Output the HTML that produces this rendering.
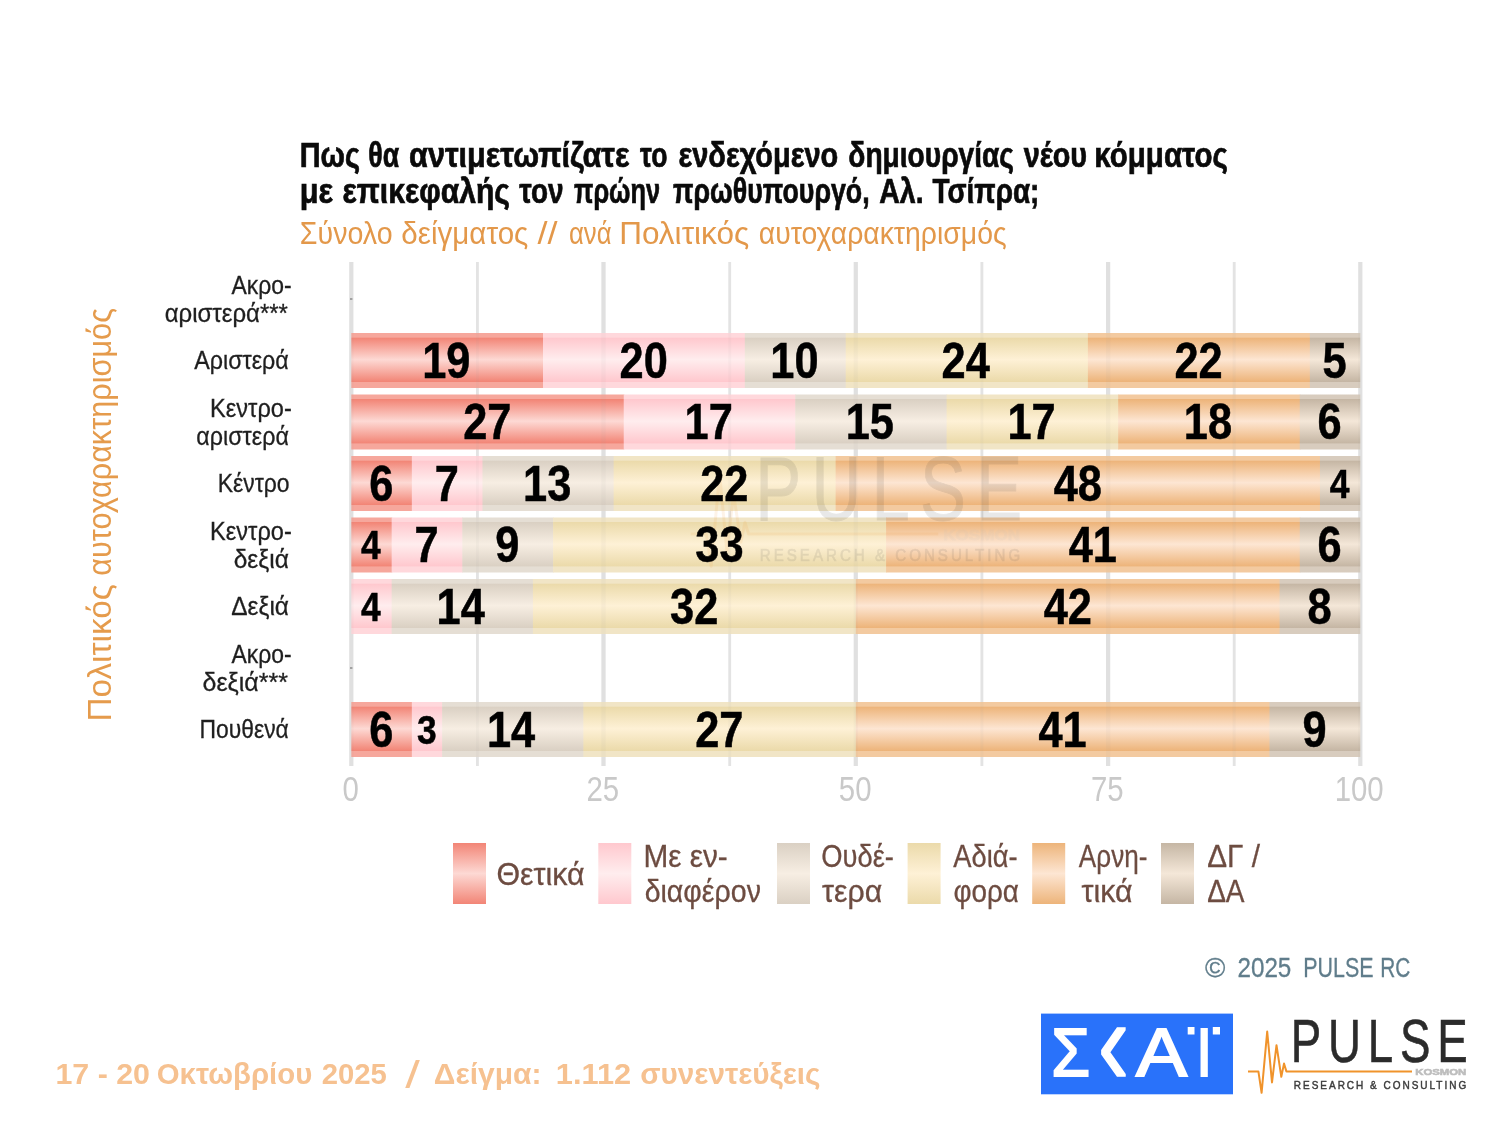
<!DOCTYPE html>
<html lang="el"><head><meta charset="utf-8"><title>Pulse RC</title>
<style>html,body{margin:0;padding:0;background:#fff}svg{display:block}text{font-family:"Liberation Sans", "DejaVu Sans", sans-serif}</style></head><body>
<svg width="1500" height="1125" viewBox="0 0 1500 1125">
<defs>
<linearGradient id="gr" x1="0" y1="0" x2="0" y2="1">
<stop offset="0" stop-color="#F6A79C"/>
<stop offset="0.078" stop-color="#F6A79C"/>
<stop offset="0.09" stop-color="#F28576"/>
<stop offset="0.485" stop-color="#FDD9D4"/>
<stop offset="0.885" stop-color="#F28576"/>
<stop offset="0.895" stop-color="#F6A79C"/>
<stop offset="1" stop-color="#F6A79C"/>
</linearGradient>
<linearGradient id="lr" x1="0" y1="0" x2="0" y2="1">
<stop offset="0" stop-color="#F28576"/>
<stop offset="0.5" stop-color="#FDD9D4"/>
<stop offset="1" stop-color="#F28576"/>
</linearGradient>
<linearGradient id="gp" x1="0" y1="0" x2="0" y2="1">
<stop offset="0" stop-color="#FFD8DC"/>
<stop offset="0.078" stop-color="#FFD8DC"/>
<stop offset="0.09" stop-color="#FFC8CE"/>
<stop offset="0.485" stop-color="#FFEDEE"/>
<stop offset="0.885" stop-color="#FFC8CE"/>
<stop offset="0.895" stop-color="#FFD8DC"/>
<stop offset="1" stop-color="#FFD8DC"/>
</linearGradient>
<linearGradient id="lp" x1="0" y1="0" x2="0" y2="1">
<stop offset="0" stop-color="#FFC8CE"/>
<stop offset="0.5" stop-color="#FFEDEE"/>
<stop offset="1" stop-color="#FFC8CE"/>
</linearGradient>
<linearGradient id="gg" x1="0" y1="0" x2="0" y2="1">
<stop offset="0" stop-color="#E5DED4"/>
<stop offset="0.078" stop-color="#E5DED4"/>
<stop offset="0.09" stop-color="#DAD0C3"/>
<stop offset="0.485" stop-color="#F7EEE3"/>
<stop offset="0.885" stop-color="#DAD0C3"/>
<stop offset="0.895" stop-color="#E5DED4"/>
<stop offset="1" stop-color="#E5DED4"/>
</linearGradient>
<linearGradient id="lg" x1="0" y1="0" x2="0" y2="1">
<stop offset="0" stop-color="#DAD0C3"/>
<stop offset="0.5" stop-color="#F7EEE3"/>
<stop offset="1" stop-color="#DAD0C3"/>
</linearGradient>
<linearGradient id="gy" x1="0" y1="0" x2="0" y2="1">
<stop offset="0" stop-color="#F1E5C6"/>
<stop offset="0.078" stop-color="#F1E5C6"/>
<stop offset="0.09" stop-color="#EBDAAA"/>
<stop offset="0.485" stop-color="#FEF1D6"/>
<stop offset="0.885" stop-color="#EBDAAA"/>
<stop offset="0.895" stop-color="#F1E5C6"/>
<stop offset="1" stop-color="#F1E5C6"/>
</linearGradient>
<linearGradient id="ly" x1="0" y1="0" x2="0" y2="1">
<stop offset="0" stop-color="#EBDAAA"/>
<stop offset="0.5" stop-color="#FEF1D6"/>
<stop offset="1" stop-color="#EBDAAA"/>
</linearGradient>
<linearGradient id="go" x1="0" y1="0" x2="0" y2="1">
<stop offset="0" stop-color="#F3CAA0"/>
<stop offset="0.078" stop-color="#F3CAA0"/>
<stop offset="0.09" stop-color="#EDB47A"/>
<stop offset="0.485" stop-color="#FDE6D3"/>
<stop offset="0.885" stop-color="#EDB47A"/>
<stop offset="0.895" stop-color="#F3CAA0"/>
<stop offset="1" stop-color="#F3CAA0"/>
</linearGradient>
<linearGradient id="lo" x1="0" y1="0" x2="0" y2="1">
<stop offset="0" stop-color="#EDB47A"/>
<stop offset="0.5" stop-color="#FDE6D3"/>
<stop offset="1" stop-color="#EDB47A"/>
</linearGradient>
<linearGradient id="gb" x1="0" y1="0" x2="0" y2="1">
<stop offset="0" stop-color="#D8CCBE"/>
<stop offset="0.078" stop-color="#D8CCBE"/>
<stop offset="0.09" stop-color="#C5B6A4"/>
<stop offset="0.485" stop-color="#F4E7D8"/>
<stop offset="0.885" stop-color="#C5B6A4"/>
<stop offset="0.895" stop-color="#D8CCBE"/>
<stop offset="1" stop-color="#D8CCBE"/>
</linearGradient>
<linearGradient id="lb" x1="0" y1="0" x2="0" y2="1">
<stop offset="0" stop-color="#C5B6A4"/>
<stop offset="0.5" stop-color="#F4E7D8"/>
<stop offset="1" stop-color="#C5B6A4"/>
</linearGradient>
</defs>
<rect width="1500" height="1125" fill="#fff"/>
<rect x="349.2" y="262" width="4.2" height="504" fill="#e5e5e5"/>
<rect x="476.0" y="262" width="2.8" height="504" fill="#e8e8e8"/>
<rect x="601.4" y="262" width="4.2" height="504" fill="#e5e5e5"/>
<rect x="728.3" y="262" width="2.8" height="504" fill="#e8e8e8"/>
<rect x="853.7" y="262" width="4.2" height="504" fill="#e5e5e5"/>
<rect x="980.5" y="262" width="2.8" height="504" fill="#e8e8e8"/>
<rect x="1106.0" y="262" width="4.2" height="504" fill="#e5e5e5"/>
<rect x="1232.8" y="262" width="2.8" height="504" fill="#e8e8e8"/>
<rect x="1358.2" y="262" width="4.2" height="504" fill="#e5e5e5"/>
<rect x="351.30" y="333.0" width="192.31" height="55" fill="url(#gr)"/>
<rect x="543.01" y="333.0" width="202.40" height="55" fill="url(#gp)"/>
<rect x="744.81" y="333.0" width="101.50" height="55" fill="url(#gg)"/>
<rect x="845.71" y="333.0" width="242.76" height="55" fill="url(#gy)"/>
<rect x="1087.87" y="333.0" width="222.58" height="55" fill="url(#go)"/>
<rect x="1309.85" y="333.0" width="50.45" height="55" fill="url(#gb)"/>
<rect x="351.30" y="394.5" width="273.03" height="55" fill="url(#gr)"/>
<rect x="623.73" y="394.5" width="172.13" height="55" fill="url(#gp)"/>
<rect x="795.26" y="394.5" width="151.95" height="55" fill="url(#gg)"/>
<rect x="946.61" y="394.5" width="172.13" height="55" fill="url(#gy)"/>
<rect x="1118.14" y="394.5" width="182.22" height="55" fill="url(#go)"/>
<rect x="1299.76" y="394.5" width="60.54" height="55" fill="url(#gb)"/>
<rect x="351.30" y="456.0" width="61.14" height="55" fill="url(#gr)"/>
<rect x="411.84" y="456.0" width="71.23" height="55" fill="url(#gp)"/>
<rect x="482.47" y="456.0" width="131.77" height="55" fill="url(#gg)"/>
<rect x="613.64" y="456.0" width="222.58" height="55" fill="url(#gy)"/>
<rect x="835.62" y="456.0" width="484.92" height="55" fill="url(#go)"/>
<rect x="1319.94" y="456.0" width="40.36" height="55" fill="url(#gb)"/>
<rect x="351.30" y="517.5" width="40.96" height="55" fill="url(#gr)"/>
<rect x="391.66" y="517.5" width="71.23" height="55" fill="url(#gp)"/>
<rect x="462.29" y="517.5" width="91.41" height="55" fill="url(#gg)"/>
<rect x="553.10" y="517.5" width="333.57" height="55" fill="url(#gy)"/>
<rect x="886.07" y="517.5" width="414.29" height="55" fill="url(#go)"/>
<rect x="1299.76" y="517.5" width="60.54" height="55" fill="url(#gb)"/>
<rect x="351.30" y="579.0" width="40.96" height="55" fill="url(#gp)"/>
<rect x="391.66" y="579.0" width="141.86" height="55" fill="url(#gg)"/>
<rect x="532.92" y="579.0" width="323.48" height="55" fill="url(#gy)"/>
<rect x="855.80" y="579.0" width="424.38" height="55" fill="url(#go)"/>
<rect x="1279.58" y="579.0" width="80.72" height="55" fill="url(#gb)"/>
<rect x="351.30" y="702.0" width="61.14" height="55" fill="url(#gr)"/>
<rect x="411.84" y="702.0" width="30.87" height="55" fill="url(#gp)"/>
<rect x="442.11" y="702.0" width="141.86" height="55" fill="url(#gg)"/>
<rect x="583.37" y="702.0" width="273.03" height="55" fill="url(#gy)"/>
<rect x="855.80" y="702.0" width="414.29" height="55" fill="url(#go)"/>
<rect x="1269.49" y="702.0" width="90.81" height="55" fill="url(#gb)"/>
<rect x="349.2" y="262" width="4.2" height="504" fill="#999" opacity="0.06"/>
<rect x="476.0" y="262" width="2.8" height="504" fill="#999" opacity="0.06"/>
<rect x="601.4" y="262" width="4.2" height="504" fill="#999" opacity="0.06"/>
<rect x="728.3" y="262" width="2.8" height="504" fill="#999" opacity="0.06"/>
<rect x="853.7" y="262" width="4.2" height="504" fill="#999" opacity="0.06"/>
<rect x="980.5" y="262" width="2.8" height="504" fill="#999" opacity="0.06"/>
<rect x="1106.0" y="262" width="4.2" height="504" fill="#999" opacity="0.06"/>
<rect x="1232.8" y="262" width="2.8" height="504" fill="#999" opacity="0.06"/>
<rect x="1358.2" y="262" width="4.2" height="504" fill="#999" opacity="0.06"/>
<rect x="350" y="298.4" width="2.4" height="1.2" fill="#777"/>
<rect x="350" y="667.4" width="2.4" height="1.2" fill="#777"/>
<g transform="translate(690.60,456.40) scale(1.5100) translate(-1248,-1020)" opacity="0.10">
<polyline points="1248,1071.4 1258.4,1071.4 1261.6,1092.8 1267.2,1031.6 1272,1082.4 1276.5,1045.2 1281.3,1076.8 1284,1063.6 1286.4,1071.4 1412,1071.4" fill="none" stroke="#F0932B" stroke-width="2" stroke-linejoin="round"/>
<text transform="translate(1290.75,1061.80) scale(0.7567,1)" font-size="60.3" fill="#2b2b2b" stroke="#2b2b2b" stroke-width="0.6" letter-spacing="9">PULSE</text>
<text transform="translate(1415.26,1075.40) scale(1.2204,1)" font-size="9.3" font-weight="bold" fill="#bdbdbd" stroke="#bdbdbd" stroke-width="0.6">KOSMON</text>
<text transform="translate(1293.80,1089.40) scale(0.9025,1)" font-size="11.1" fill="#3c3c3c" stroke="#3c3c3c" stroke-width="0.45" letter-spacing="2.2">RESEARCH &amp; CONSULTING</text>
</g>
<text transform="translate(422.15,377.70) scale(0.8847,1)" font-size="49" font-weight="bold" fill="#000" stroke="#000" stroke-width="0.5">19</text>
<text transform="translate(619.56,377.70) scale(0.8847,1)" font-size="49" font-weight="bold" fill="#000" stroke="#000" stroke-width="0.5">20</text>
<text transform="translate(770.37,377.70) scale(0.8847,1)" font-size="49" font-weight="bold" fill="#000" stroke="#000" stroke-width="0.5">10</text>
<text transform="translate(941.57,377.70) scale(0.8847,1)" font-size="49" font-weight="bold" fill="#000" stroke="#000" stroke-width="0.5">24</text>
<text transform="translate(1174.40,377.70) scale(0.8847,1)" font-size="49" font-weight="bold" fill="#000" stroke="#000" stroke-width="0.5">22</text>
<text transform="translate(1322.54,377.70) scale(0.8847,1)" font-size="49" font-weight="bold" fill="#000" stroke="#000" stroke-width="0.5">5</text>
<text transform="translate(463.16,439.20) scale(0.8847,1)" font-size="49" font-weight="bold" fill="#000" stroke="#000" stroke-width="0.5">27</text>
<text transform="translate(684.60,439.20) scale(0.8847,1)" font-size="49" font-weight="bold" fill="#000" stroke="#000" stroke-width="0.5">17</text>
<text transform="translate(845.72,439.20) scale(0.8847,1)" font-size="49" font-weight="bold" fill="#000" stroke="#000" stroke-width="0.5">15</text>
<text transform="translate(1007.48,439.20) scale(0.8847,1)" font-size="49" font-weight="bold" fill="#000" stroke="#000" stroke-width="0.5">17</text>
<text transform="translate(1183.84,439.20) scale(0.8847,1)" font-size="49" font-weight="bold" fill="#000" stroke="#000" stroke-width="0.5">18</text>
<text transform="translate(1317.60,439.20) scale(0.8847,1)" font-size="49" font-weight="bold" fill="#000" stroke="#000" stroke-width="0.5">6</text>
<text transform="translate(369.14,500.70) scale(0.8847,1)" font-size="49" font-weight="bold" fill="#000" stroke="#000" stroke-width="0.5">6</text>
<text transform="translate(434.73,500.70) scale(0.8847,1)" font-size="49" font-weight="bold" fill="#000" stroke="#000" stroke-width="0.5">7</text>
<text transform="translate(523.05,500.70) scale(0.8847,1)" font-size="49" font-weight="bold" fill="#000" stroke="#000" stroke-width="0.5">13</text>
<text transform="translate(700.17,500.70) scale(0.8847,1)" font-size="49" font-weight="bold" fill="#000" stroke="#000" stroke-width="0.5">22</text>
<text transform="translate(1053.65,500.70) scale(0.8847,1)" font-size="49" font-weight="bold" fill="#000" stroke="#000" stroke-width="0.5">48</text>
<text transform="translate(1329.72,497.60) scale(0.8847,1)" font-size="40" font-weight="bold" fill="#000" stroke="#000" stroke-width="0.5">4</text>
<text transform="translate(361.08,559.10) scale(0.8847,1)" font-size="40" font-weight="bold" fill="#000" stroke="#000" stroke-width="0.5">4</text>
<text transform="translate(414.55,562.20) scale(0.8847,1)" font-size="49" font-weight="bold" fill="#000" stroke="#000" stroke-width="0.5">7</text>
<text transform="translate(495.27,562.20) scale(0.8847,1)" font-size="49" font-weight="bold" fill="#000" stroke="#000" stroke-width="0.5">9</text>
<text transform="translate(695.34,562.20) scale(0.8847,1)" font-size="49" font-weight="bold" fill="#000" stroke="#000" stroke-width="0.5">33</text>
<text transform="translate(1068.67,562.20) scale(0.8847,1)" font-size="49" font-weight="bold" fill="#000" stroke="#000" stroke-width="0.5">41</text>
<text transform="translate(1317.60,562.20) scale(0.8847,1)" font-size="49" font-weight="bold" fill="#000" stroke="#000" stroke-width="0.5">6</text>
<text transform="translate(361.08,620.60) scale(0.8847,1)" font-size="40" font-weight="bold" fill="#000" stroke="#000" stroke-width="0.5">4</text>
<text transform="translate(436.53,623.70) scale(0.8847,1)" font-size="49" font-weight="bold" fill="#000" stroke="#000" stroke-width="0.5">14</text>
<text transform="translate(670.12,623.70) scale(0.8847,1)" font-size="49" font-weight="bold" fill="#000" stroke="#000" stroke-width="0.5">32</text>
<text transform="translate(1043.66,623.70) scale(0.8847,1)" font-size="49" font-weight="bold" fill="#000" stroke="#000" stroke-width="0.5">42</text>
<text transform="translate(1307.51,623.70) scale(0.8847,1)" font-size="49" font-weight="bold" fill="#000" stroke="#000" stroke-width="0.5">8</text>
<text transform="translate(369.14,746.70) scale(0.8847,1)" font-size="49" font-weight="bold" fill="#000" stroke="#000" stroke-width="0.5">6</text>
<text transform="translate(416.93,743.60) scale(0.8847,1)" font-size="40" font-weight="bold" fill="#000" stroke="#000" stroke-width="0.5">3</text>
<text transform="translate(486.98,746.70) scale(0.8847,1)" font-size="49" font-weight="bold" fill="#000" stroke="#000" stroke-width="0.5">14</text>
<text transform="translate(695.23,746.70) scale(0.8847,1)" font-size="49" font-weight="bold" fill="#000" stroke="#000" stroke-width="0.5">27</text>
<text transform="translate(1038.40,746.70) scale(0.8847,1)" font-size="49" font-weight="bold" fill="#000" stroke="#000" stroke-width="0.5">41</text>
<text transform="translate(1302.47,746.70) scale(0.8847,1)" font-size="49" font-weight="bold" fill="#000" stroke="#000" stroke-width="0.5">9</text>
<text transform="translate(342.46,800.60) scale(0.8525,1)" font-size="34.5" fill="#c9c9c9">0</text>
<text transform="translate(586.48,800.60) scale(0.8525,1)" font-size="34.5" fill="#c9c9c9">25</text>
<text transform="translate(838.80,800.60) scale(0.8525,1)" font-size="34.5" fill="#c9c9c9">50</text>
<text transform="translate(1090.98,800.60) scale(0.8525,1)" font-size="34.5" fill="#c9c9c9">75</text>
<text transform="translate(1334.63,800.60) scale(0.8525,1)" font-size="34.5" fill="#c9c9c9">100</text>
<text transform="translate(231.49,293.90) scale(0.8965,1)" font-size="25.6" fill="#1f1f1f" stroke="#1f1f1f" stroke-width="0.3">Ακρο-</text>
<text transform="translate(164.64,321.90) scale(0.9372,1)" font-size="25.6" fill="#1f1f1f" stroke="#1f1f1f" stroke-width="0.3">αριστερά***</text>
<text transform="translate(194.28,368.90) scale(0.9092,1)" font-size="25.6" fill="#1f1f1f" stroke="#1f1f1f" stroke-width="0.3">Αριστερά</text>
<text transform="translate(210.11,416.90) scale(0.9204,1)" font-size="25.6" fill="#1f1f1f" stroke="#1f1f1f" stroke-width="0.3">Κεντρο-</text>
<text transform="translate(196.37,444.90) scale(0.9093,1)" font-size="25.6" fill="#1f1f1f" stroke="#1f1f1f" stroke-width="0.3">αριστερά</text>
<text transform="translate(217.66,491.90) scale(0.8968,1)" font-size="25.6" fill="#1f1f1f" stroke="#1f1f1f" stroke-width="0.3">Κέντρο</text>
<text transform="translate(210.11,539.90) scale(0.9204,1)" font-size="25.6" fill="#1f1f1f" stroke="#1f1f1f" stroke-width="0.3">Κεντρο-</text>
<text transform="translate(233.72,567.90) scale(0.9586,1)" font-size="25.6" fill="#1f1f1f" stroke="#1f1f1f" stroke-width="0.3">δεξιά</text>
<text transform="translate(231.27,614.90) scale(0.9545,1)" font-size="25.6" fill="#1f1f1f" stroke="#1f1f1f" stroke-width="0.3">Δεξιά</text>
<text transform="translate(231.49,662.90) scale(0.8965,1)" font-size="25.6" fill="#1f1f1f" stroke="#1f1f1f" stroke-width="0.3">Ακρο-</text>
<text transform="translate(202.50,690.90) scale(0.9777,1)" font-size="25.6" fill="#1f1f1f" stroke="#1f1f1f" stroke-width="0.3">δεξιά***</text>
<text transform="translate(199.47,737.90) scale(0.8945,1)" font-size="25.6" fill="#1f1f1f" stroke="#1f1f1f" stroke-width="0.3">Πουθενά</text>
<g>
<text transform="translate(111,721.46) rotate(-90) scale(0.9787,1)" font-size="34" fill="#E59B4C">Πολιτικός</text>
<text transform="translate(111,575.63) rotate(-90) scale(0.9014,1)" font-size="34" fill="#E59B4C">αυτοχαρακτηρισμός</text>
</g>
<g>
<text transform="translate(299.72,166.70) scale(0.8295,1)" font-size="34.8" font-weight="bold" fill="#0a0a0a" stroke="#0a0a0a" stroke-width="0.7">Πως</text>
<text transform="translate(368.30,166.70) scale(0.7680,1)" font-size="34.8" font-weight="bold" fill="#0a0a0a" stroke="#0a0a0a" stroke-width="0.7">θα</text>
<text transform="translate(409.08,166.70) scale(0.8798,1)" font-size="34.8" font-weight="bold" fill="#0a0a0a" stroke="#0a0a0a" stroke-width="0.7">αντιμετωπίζατε</text>
<text transform="translate(640.03,166.70) scale(0.7653,1)" font-size="34.8" font-weight="bold" fill="#0a0a0a" stroke="#0a0a0a" stroke-width="0.7">το</text>
<text transform="translate(678.49,166.70) scale(0.8330,1)" font-size="34.8" font-weight="bold" fill="#0a0a0a" stroke="#0a0a0a" stroke-width="0.7">ενδεχόμενο</text>
<text transform="translate(848.37,166.70) scale(0.8087,1)" font-size="34.8" font-weight="bold" fill="#0a0a0a" stroke="#0a0a0a" stroke-width="0.7">δημιουργίας</text>
<text transform="translate(1023.80,166.70) scale(0.8275,1)" font-size="34.8" font-weight="bold" fill="#0a0a0a" stroke="#0a0a0a" stroke-width="0.7">νέου</text>
<text transform="translate(1094.23,166.70) scale(0.8487,1)" font-size="34.8" font-weight="bold" fill="#0a0a0a" stroke="#0a0a0a" stroke-width="0.7">κόμματος</text>
</g><g>
<text transform="translate(299.85,203.30) scale(0.8822,1)" font-size="34.8" font-weight="bold" fill="#0a0a0a" stroke="#0a0a0a" stroke-width="0.7">με</text>
<text transform="translate(342.55,203.30) scale(0.8644,1)" font-size="34.8" font-weight="bold" fill="#0a0a0a" stroke="#0a0a0a" stroke-width="0.7">επικεφαλής</text>
<text transform="translate(519.22,203.30) scale(0.8020,1)" font-size="34.8" font-weight="bold" fill="#0a0a0a" stroke="#0a0a0a" stroke-width="0.7">τον</text>
<text transform="translate(573.99,203.30) scale(0.7283,1)" font-size="34.8" font-weight="bold" fill="#0a0a0a" stroke="#0a0a0a" stroke-width="0.7">πρώην</text>
<text transform="translate(673.06,203.30) scale(0.7694,1)" font-size="34.8" font-weight="bold" fill="#0a0a0a" stroke="#0a0a0a" stroke-width="0.7">πρωθυπουργό,</text>
<text transform="translate(879.29,203.30) scale(0.8179,1)" font-size="34.8" font-weight="bold" fill="#0a0a0a" stroke="#0a0a0a" stroke-width="0.7">Αλ.</text>
<text transform="translate(932.52,203.30) scale(0.8015,1)" font-size="34.8" font-weight="bold" fill="#0a0a0a" stroke="#0a0a0a" stroke-width="0.7">Τσίπρα;</text>
</g><g>
<text transform="translate(299.87,244.30) scale(0.8929,1)" font-size="32" fill="#E3984A">Σύνολο</text>
<text transform="translate(401.32,244.30) scale(0.9235,1)" font-size="32" fill="#E3984A">δείγματος</text>
<text transform="translate(537.50,244.30) scale(1.1261,1)" font-size="32" fill="#E3984A">//</text>
<text transform="translate(568.97,244.30) scale(0.8044,1)" font-size="32" fill="#E3984A">ανά</text>
<text transform="translate(619.18,244.30) scale(0.9854,1)" font-size="32" fill="#E3984A">Πολιτικός</text>
<text transform="translate(758.86,244.30) scale(0.8870,1)" font-size="32" fill="#E3984A">αυτοχαρακτηρισμός</text>
</g>
<rect x="453.0" y="843" width="33" height="61" fill="url(#lr)"/>
<rect x="598.3" y="843" width="33" height="61" fill="url(#lp)"/>
<rect x="777.0" y="843" width="33" height="61" fill="url(#lg)"/>
<rect x="907.6" y="843" width="33" height="61" fill="url(#ly)"/>
<rect x="1032.2" y="843" width="33" height="61" fill="url(#lo)"/>
<rect x="1161.0" y="843" width="33" height="61" fill="url(#lb)"/>
<text transform="translate(496.43,884.60) scale(0.9698,1)" font-size="31.3" fill="#6D4C41" stroke="#6D4C41" stroke-width="0.3">Θετικά</text>
<text transform="translate(643.42,866.60) scale(0.9502,1)" font-size="31.3" fill="#6D4C41" stroke="#6D4C41" stroke-width="0.3">Με εν-</text>
<text transform="translate(644.66,902.40) scale(0.9113,1)" font-size="31.3" fill="#6D4C41" stroke="#6D4C41" stroke-width="0.3">διαφέρον</text>
<text transform="translate(821.27,866.60) scale(0.8727,1)" font-size="31.3" fill="#6D4C41" stroke="#6D4C41" stroke-width="0.3">Ουδέ-</text>
<text transform="translate(822.05,902.40) scale(0.9675,1)" font-size="31.3" fill="#6D4C41" stroke="#6D4C41" stroke-width="0.3">τερα</text>
<text transform="translate(953.26,866.60) scale(0.8727,1)" font-size="31.3" fill="#6D4C41" stroke="#6D4C41" stroke-width="0.3">Αδιά-</text>
<text transform="translate(953.39,902.40) scale(0.8898,1)" font-size="31.3" fill="#6D4C41" stroke="#6D4C41" stroke-width="0.3">φορα</text>
<text transform="translate(1078.87,866.60) scale(0.8350,1)" font-size="31.3" fill="#6D4C41" stroke="#6D4C41" stroke-width="0.3">Αρνη-</text>
<text transform="translate(1081.54,902.40) scale(0.9702,1)" font-size="31.3" fill="#6D4C41" stroke="#6D4C41" stroke-width="0.3">τικά</text>
<text transform="translate(1207.21,866.60) scale(0.9484,1)" font-size="31.3" fill="#6D4C41" stroke="#6D4C41" stroke-width="0.3">ΔΓ /</text>
<text transform="translate(1207.16,902.40) scale(0.8946,1)" font-size="31.3" fill="#6D4C41" stroke="#6D4C41" stroke-width="0.3">ΔΑ</text>
<g>
<text transform="translate(1204.99,977.20) scale(1.0244,1)" font-size="27" fill="#607D8B" stroke="#607D8B" stroke-width="0.3">©</text>
<text transform="translate(1237.49,977.20) scale(0.8969,1)" font-size="27" fill="#607D8B" stroke="#607D8B" stroke-width="0.3">2025</text>
<text transform="translate(1303.29,977.20) scale(0.7936,1)" font-size="27" fill="#607D8B" stroke="#607D8B" stroke-width="0.3">PULSE</text>
<text transform="translate(1380.13,977.20) scale(0.7715,1)" font-size="27" fill="#607D8B" stroke="#607D8B" stroke-width="0.3">RC</text>
</g>
<g>
<text transform="translate(55.48,1083.70) scale(1.0465,1)" font-size="29" font-weight="bold" fill="#F6C190">17 - 20</text>
<text transform="translate(156.73,1083.70) scale(1.0127,1)" font-size="29" font-weight="bold" fill="#F6C190">Οκτωβρίου</text>
<text transform="translate(321.67,1083.70) scale(1.0105,1)" font-size="29" font-weight="bold" fill="#F6C190">2025</text>
<text transform="translate(405.30,1088.00) scale(1.3462,1)" font-size="39" fill="#F6C190">/</text>
<text transform="translate(433.80,1083.70) scale(1.0365,1)" font-size="29" font-weight="bold" fill="#F6C190">Δείγμα:</text>
<text transform="translate(555.85,1083.70) scale(1.0609,1)" font-size="29" font-weight="bold" fill="#F6C190">1.112</text>
<text transform="translate(640.31,1083.70) scale(1.0233,1)" font-size="29" font-weight="bold" fill="#F6C190">συνεντεύξεις</text>
</g>
<rect x="1041" y="1013.6" width="192" height="80.7" fill="#2972FA"/>
<g aria-label="ΣΚΑΪ"><title>ΣΚΑΪ</title>
<text transform="translate(1051.16,1075.50) scale(0.9066,1)" font-size="69.3" fill="#fff" stroke="#fff" stroke-width="2" stroke-linejoin="miter">Σ</text>
<text transform="translate(1097.82,1084.06) scale(0.9440,1.2231)" font-size="100" fill="#fff" stroke="#fff" stroke-width="1.3">‹</text>
<text transform="translate(1136.02,1075.50) scale(1.1041,1)" font-size="69.3" fill="#fff" stroke="#fff" stroke-width="2" stroke-linejoin="miter">Α</text>
<text transform="translate(1195.99,1075.50) scale(0.8506,1)" font-size="69.3" fill="#fff" stroke="#fff" stroke-width="2" stroke-linejoin="miter">Ι</text>
<rect x="1187.7" y="1027" width="6.8" height="7.5" fill="#fff"/><rect x="1212.8" y="1027" width="7.2" height="7.5" fill="#fff"/>
</g>
<g transform="translate(1248.00,1020.00) scale(1.0000) translate(-1248,-1020)">
<polyline points="1248,1071.4 1258.4,1071.4 1261.6,1092.8 1267.2,1031.6 1272,1082.4 1276.5,1045.2 1281.3,1076.8 1284,1063.6 1286.4,1071.4 1412,1071.4" fill="none" stroke="#F0932B" stroke-width="2" stroke-linejoin="round"/>
<text transform="translate(1290.75,1061.80) scale(0.7567,1)" font-size="60.3" fill="#2b2b2b" stroke="#2b2b2b" stroke-width="0.6" letter-spacing="9">PULSE</text>
<text transform="translate(1415.26,1075.40) scale(1.2204,1)" font-size="9.3" font-weight="bold" fill="#bdbdbd" stroke="#bdbdbd" stroke-width="0.6">KOSMON</text>
<text transform="translate(1293.80,1089.40) scale(0.9025,1)" font-size="11.1" fill="#3c3c3c" stroke="#3c3c3c" stroke-width="0.45" letter-spacing="2.2">RESEARCH &amp; CONSULTING</text>
</g>
</svg></body></html>
